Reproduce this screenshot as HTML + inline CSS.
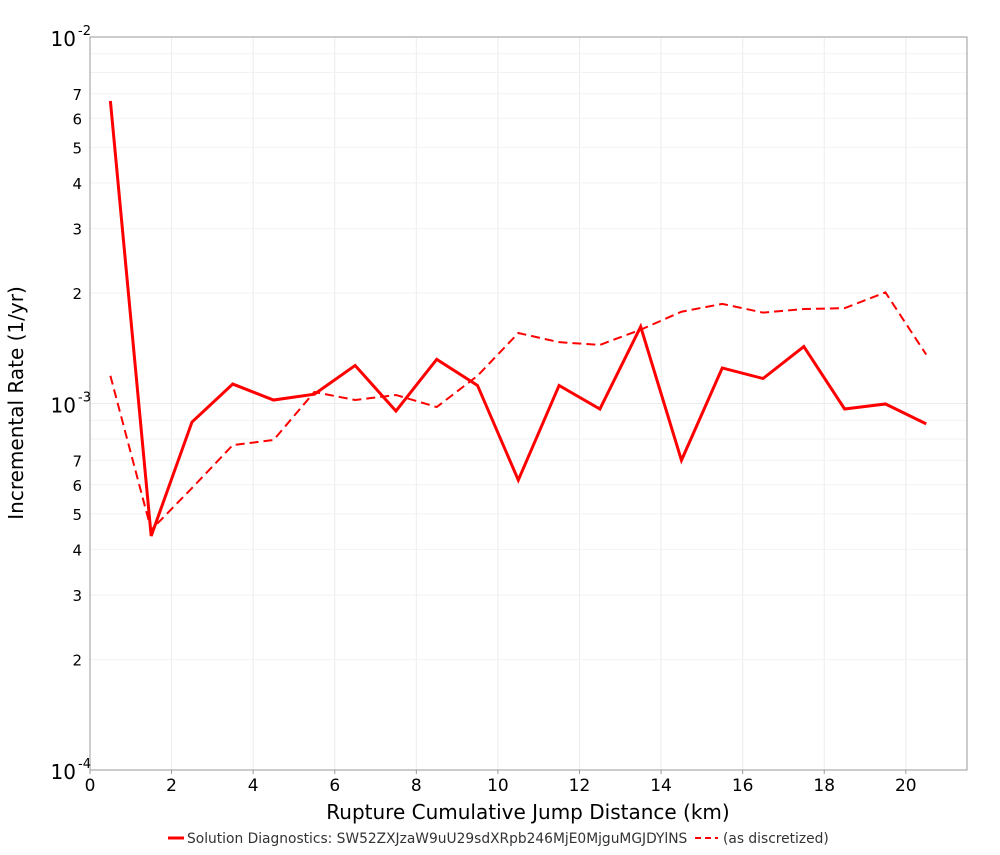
<!DOCTYPE html>
<html><head><meta charset="utf-8"><style>
body{margin:0;background:#fff;font-family:"Liberation Sans","DejaVu Sans",sans-serif;}
svg text{font-family:"DejaVu Sans","Liberation Sans",sans-serif;}
</style></head><body>
<svg id="chart" width="1000" height="850" xmlns="http://www.w3.org/2000/svg">
<g id="grid"></g>
<rect x="90" y="37" width="877" height="733" fill="none" stroke="#999"/>
<g id="axes"></g>
<g id="series"></g>
<text x="528" y="819" font-size="20" text-anchor="middle" fill="#000">Rupture Cumulative Jump Distance (km)</text>
<text transform="translate(23,403) rotate(-90)" font-size="20" text-anchor="middle" fill="#000">Incremental Rate (1/yr)</text>
<g>
<line x1="168" y1="838" x2="184" y2="838" stroke="#f00" stroke-width="3"/>
<text x="187" y="843" font-size="13.8" fill="#333">Solution Diagnostics: SW52ZXJzaW9uU29sdXRpb246MjE0MjguMGJDYlNS</text>
<line x1="695" y1="838" x2="718" y2="838" stroke="#f00" stroke-width="2" stroke-dasharray="6,4"/>
<text x="723" y="843" font-size="13.8" fill="#333">(as discretized)</text>
</g>
</svg>
<script>
const xCenters=[0.5,1.5,2.5,3.5,4.5,5.5,6.5,7.5,8.5,9.5,10.5,11.5,12.5,13.5,14.5,15.5,16.5,17.5,18.5,19.5,20.5];
const solutionRates=[6.69e-3,4.35e-4,8.9e-4,1.13e-3,1.022e-3,1.06e-3,1.27e-3,9.54e-4,1.32e-3,1.12e-3,6.18e-4,1.12e-3,9.66e-4,1.62e-3,7.0e-4,1.25e-3,1.17e-3,1.43e-3,9.66e-4,9.97e-4,8.8e-4];
const discretizedRates=[1.19e-3,4.52e-4,5.88e-4,7.7e-4,7.95e-4,1.075e-3,1.022e-3,1.055e-3,9.78e-4,1.19e-3,1.557e-3,1.47e-3,1.445e-3,1.59e-3,1.78e-3,1.87e-3,1.77e-3,1.81e-3,1.82e-3,2.01e-3,1.36e-3];
const xTicks=[0,2,4,6,8,10,12,14,16,18,20];
const yDecades=[-4,-3,-2];
const yMinorLabels=[2,3,4,5,6,7];
const NS="http://www.w3.org/2000/svg";
const X0=90,X1=967,XMAX=21.5,Y0=770,Y1=37,LMIN=-4,LMAX=-2;
const xs=v=>X0+(X1-X0)*v/XMAX;
const ys=v=>Y0-(Y0-Y1)*(Math.log10(v)-LMIN)/(LMAX-LMIN);
function mk(t,a,p){const e=document.createElementNS(NS,t);for(const k in a)e.setAttribute(k,a[k]);p.appendChild(e);return e;}
const grid=document.getElementById('grid'),axes=document.getElementById('axes'),series=document.getElementById('series');
xTicks.forEach(t=>{const x=xs(t);
const g=mk('line',{x1:x,x2:x,y1:Y1,y2:Y0,stroke:'#ececec'},grid);


mk('line',{x1:x,x2:x,y1:Y0,y2:Y0+4,stroke:'#999'},axes);
const l=mk('text',{x:x,y:Y0+21,'font-size':17,'text-anchor':'middle',fill:'#000'},axes);


l.textContent=t;});
yDecades.forEach(d=>{const y=ys(Math.pow(10,d));
const g=mk('line',{x1:X0,x2:X1,y1:y,y2:y,stroke:'#ececec'},grid);


const l=mk('text',{x:76,y:y+9,'font-size':20,'text-anchor':'end',fill:'#000'},axes);


l.textContent='10';
const s=mk('text',{x:78,y:y-2,'font-size':13,fill:'#000'},axes);


s.textContent=String(d);
if(d<LMAX){yMinorLabels.concat([8,9]).forEach(m=>{const yy=ys(m*Math.pow(10,d));
const gm=mk('line',{x1:X0,x2:X1,y1:yy,y2:yy,stroke:'#f2f2f2'},grid);


if(yMinorLabels.includes(m)){const t=mk('text',{x:82,y:yy+6,'font-size':15,'text-anchor':'end',fill:'#000'},axes);


t.textContent=m;}});}});
function line(vals,dash,name,w){const pts=xCenters.map((x,i)=>xs(x)+','+ys(vals[i])).join(' ');
const p=mk('polyline',{points:pts,fill:'none',stroke:'#f00','stroke-width':w,'stroke-linejoin':'miter'},series);
if(dash)p.setAttribute('stroke-dasharray','9,5');

}
line(discretizedRates,true,'discretized-line',2);
line(solutionRates,false,'solution-line',3);
</script>
</body></html>
